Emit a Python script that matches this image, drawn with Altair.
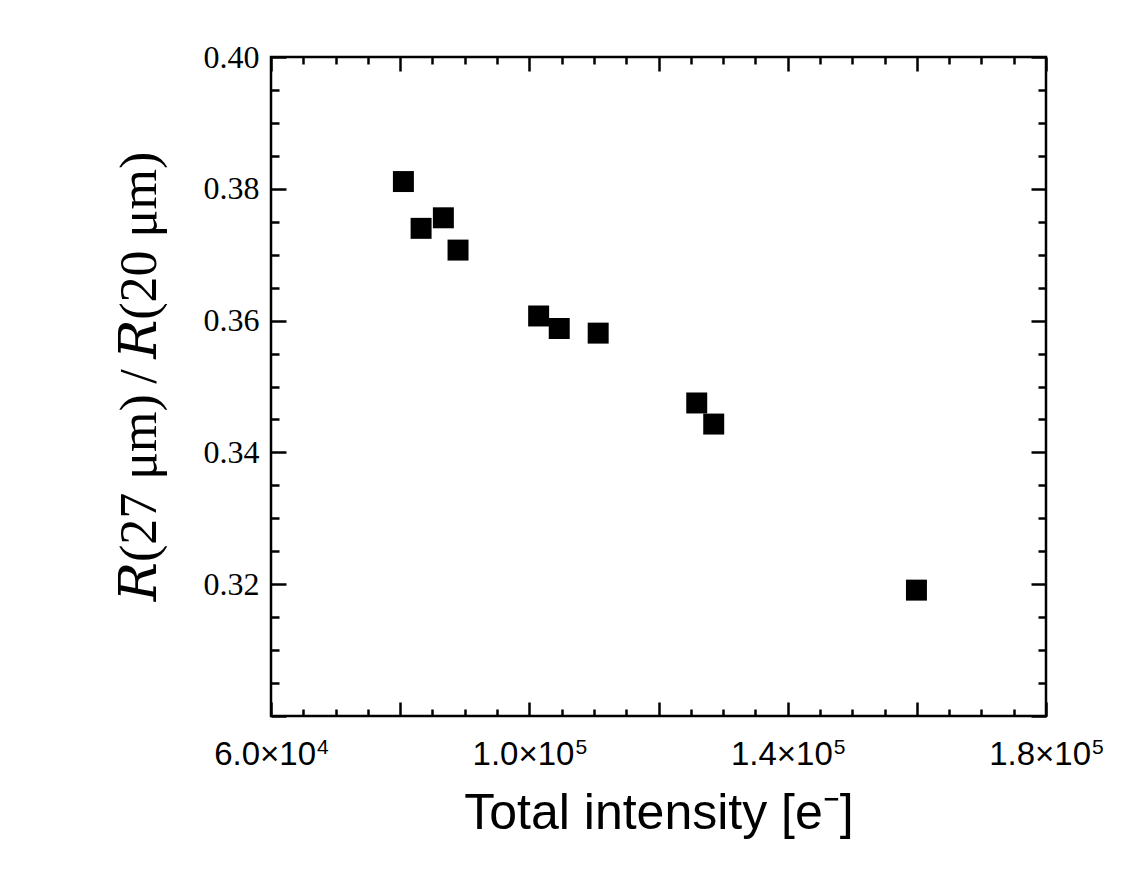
import altair as alt
import pandas as pd

# ---- data ----
intensity = [80500, 83240, 86690, 88960, 101440, 104630, 110660, 125920, 128550, 159940]
ratio = [0.3811, 0.3740, 0.3756, 0.3707, 0.3607, 0.3588, 0.3581, 0.3475, 0.3443, 0.3191]

x_label_values = [60000, 100000, 140000, 180000]
x_label_mantissa = ["6.0×10", "1.0×10", "1.4×10", "1.8×10"]
x_label_exponent = ["4", "5", "5", "5"]
y_label_values = [0.32, 0.34, 0.36, 0.38, 0.40]
x_tick_values = [60000 + 5000 * i for i in range(25)]
y_tick_values = [round(0.30 + 0.005 * i, 3) for i in range(21)]

x_title = "Total intensity [e⁻]"
y_title = "𝑅(27 μm)\u2009/\u2009𝑅(20 μm)"

W, H = 775, 659

df = pd.DataFrame({"intensity": intensity, "ratio": ratio})

xs = alt.Scale(domain=[60000, 180000], nice=False, zero=False)
ys = alt.Scale(domain=[0.30, 0.40], nice=False, zero=False)


def lookup_expr(values, texts):
    return " : ".join(
        f"datum.value == {v} ? '{t}'" for v, t in zip(values, texts)
    ) + " : ''"


x_major = "datum.value % 20000 == 0"
y_major = "round(datum.value * 1000) % 20 == 0"
tick_x = {"condition": {"test": x_major, "value": 14}, "value": 7}
tick_y = {"condition": {"test": y_major, "value": 15}, "value": 8}

LF, SF = 33, 21               # label / superscript font sizes
base_w = 3.086 * LF           # width of "d.d×10" in Liberation Sans
sup_w = 0.556 * SF
total_w = base_w + sup_w + 1
base_off = total_w / 2 - sup_w - 1
sup_off = total_w / 2 - sup_w

base = alt.Chart(df)

points = base.mark_square(size=440, color="black", opacity=1).encode(
    x=alt.X(
        "intensity:Q",
        scale=xs,
        axis=alt.Axis(
            orient="bottom", values=x_label_values,
            labelExpr=lookup_expr(x_label_values, x_label_mantissa),
            ticks=False, domain=False, grid=False, labelFlush=False,
            labelAlign="right", labelOffset=base_off,
            labelFont="Liberation Sans", labelFontSize=LF, labelPadding=22,
            title=x_title, titleFont="Liberation Sans", titleFontSize=50,
            titleFontWeight="normal", titlePadding=17,
        ),
    ),
    y=alt.Y(
        "ratio:Q",
        scale=ys,
        axis=alt.Axis(
            orient="left", values=y_label_values, format=".2f",
            ticks=False, domain=False, grid=False,
            labelFont="Liberation Serif", labelFontSize=32, labelPadding=12,
            title=y_title, titleFont="Liberation Serif, DejaVu Serif",
            titleFontSize=52, titleFontWeight="normal", titlePadding=37,
            titleY=319,
        ),
    ),
)

sup_layer = base.mark_point(opacity=0).encode(
    x=alt.X(
        "intensity:Q", scale=xs,
        axis=alt.Axis(
            orient="bottom", values=x_label_values,
            labelExpr=lookup_expr(x_label_values, x_label_exponent),
            ticks=False, domain=False, grid=False, labelFlush=False,
            labelAlign="left", labelOffset=sup_off,
            labelFont="Liberation Sans", labelFontSize=SF, labelPadding=20,
            title="",
        ),
    ),
    y=alt.Y("ratio:Q", scale=ys, axis=None),
)

ticks_a = base.mark_point(opacity=0).encode(
    x=alt.X(
        "intensity:Q", scale=xs,
        axis=alt.Axis(orient="top", offset=-H, values=x_tick_values, labels=False,
                      domain=False, grid=False, tickSize=tick_x, title=""),
    ),
    y=alt.Y(
        "ratio:Q", scale=ys,
        axis=alt.Axis(orient="right", offset=-W, values=y_tick_values, labels=False,
                      domain=False, grid=False, tickSize=tick_y, title=""),
    ),
)

ticks_b = base.mark_point(opacity=0).encode(
    x=alt.X(
        "intensity:Q", scale=xs,
        axis=alt.Axis(orient="bottom", offset=-H, values=x_tick_values, labels=False,
                      domain=False, grid=False, tickSize=tick_x, title=""),
    ),
    y=alt.Y(
        "ratio:Q", scale=ys,
        axis=alt.Axis(orient="left", offset=-W, values=y_tick_values, labels=False,
                      domain=False, grid=False, tickSize=tick_y, title=""),
    ),
)

chart = (
    alt.layer(points, sup_layer, ticks_a, ticks_b)
    .resolve_axis(x="independent", y="independent")
    .properties(
        width=W, height=H,
        autosize=alt.AutoSizeParams(type="none"),
        padding={"left": 263, "top": 49, "right": 60, "bottom": 140},
        background="white",
    )
    .configure_view(stroke="black", strokeWidth=2.5)
    .configure_axis(tickColor="black", tickWidth=2.5, labelColor="black",
                    titleColor="black", domainColor="black")
)

chart.save("out.html", embed_options={"renderer": "svg", "actions": False})
